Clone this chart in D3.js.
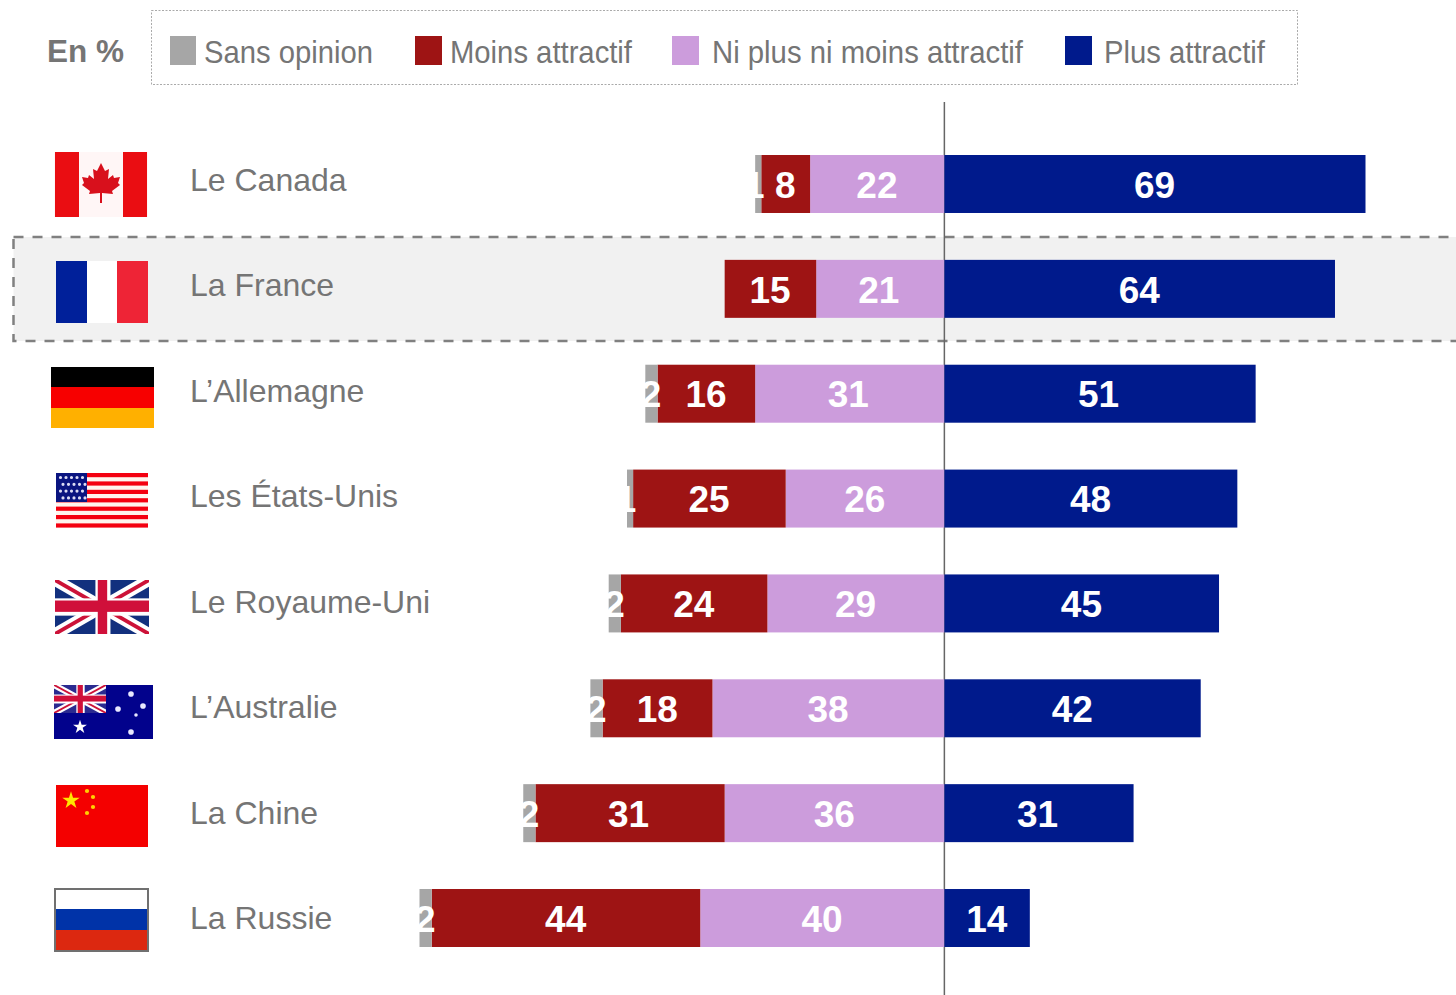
<!DOCTYPE html>
<html>
<head>
<meta charset="utf-8">
<script src="https://cdn.jsdelivr.net/npm/d3@7"></script>
<style>
  html, body { margin: 0; padding: 0; background: #fff; overflow: hidden; }
  text { font-family: "Liberation Sans", Arial, sans-serif; }
</style>
</head>
<body>
<div id="chart"></div>
<script>
// data
var countries = ["Le Canada", "La France", "L\u2019Allemagne", "Les \u00c9tats-Unis", "Le Royaume-Uni", "L\u2019Australie", "La Chine", "La Russie"];
var sansOpinion = [1, 0, 2, 1, 2, 2, 2, 2];
var moinsAttractif = [8, 15, 16, 25, 24, 18, 31, 44];
var niPlusNiMoins = [22, 21, 31, 26, 29, 38, 36, 40];
var plusAttractif = [69, 64, 51, 48, 45, 42, 31, 14];
var legendLabels = ["Sans opinion", "Moins attractif", "Ni plus ni moins attractif", "Plus attractif"];

var grey = "#a6a6a6", red = "#9e1414", lilac = "#cc9cdc", navy = "#001a8c", textGrey = "#757575";

var svg = d3.select("#chart").append("svg")
  .attr("width", 1456)
  .attr("height", 995);

// scales
var x = d3.scaleLinear().domain([-86, 69]).range([419.5, 1365.5]);
var y = d3.scaleBand().domain(countries).range([155, 947]).paddingInner(0.447).paddingOuter(0);
// the names sit on a slightly wider step than the bars
var nameY = d3.scalePoint().domain(countries).range([191, 929]);

// header
svg.append("text")
  .attr("x", 47).attr("y", 62)
  .attr("font-size", 31.5).attr("font-weight", "bold").attr("fill", textGrey)
  .text("En %");

svg.append("rect")
  .attr("x", 151.5).attr("y", 10.5).attr("width", 1146).attr("height", 74)
  .attr("fill", "none").attr("stroke", "#aaa").attr("stroke-dasharray", "2,1.5");

var legendX = [170, 415, 672, 1065], legendW = [26, 27, 27, 27], legendTextX = [204, 450, 712, 1104];
var legendTextLen = [169, 182, 311, 161];
[grey, red, lilac, navy].forEach(function(c, i) {
  svg.append("rect").attr("x", legendX[i]).attr("y", 36).attr("width", legendW[i]).attr("height", 29).attr("fill", c);
  svg.append("text")
    .attr("x", legendTextX[i]).attr("y", 62.5)
    .attr("font-size", 30.5).attr("fill", textGrey)
    .attr("textLength", legendTextLen[i]).attr("lengthAdjust", "spacingAndGlyphs")
    .text(legendLabels[i]);
});

// highlight behind France
svg.append("rect")
  .attr("x", 13.5).attr("y", 237).attr("width", 1460).attr("height", 104)
  .attr("fill", "#f1f1f1").attr("stroke", "#808080").attr("stroke-width", 2.5).attr("stroke-dasharray", "10,9");

// zero line
svg.append("line")
  .attr("x1", x(0)).attr("x2", x(0)).attr("y1", 102).attr("y2", 995)
  .attr("stroke", "#666").attr("stroke-width", 1.5);

// left side is a stack running outwards from zero
var table = countries.map(function(c, i) {
  return { country: c, ni: niPlusNiMoins[i], moins: moinsAttractif[i], sans: sansOpinion[i], plus: plusAttractif[i] };
});
var leftSeries = d3.stack().keys(["ni", "moins", "sans"])(table);
var colors = { ni: lilac, moins: red, sans: grey };

leftSeries.forEach(function(s) {
  var g = svg.append("g");
  g.selectAll("rect").data(s).enter().append("rect")
    .attr("x", function(d) { return x(-d[1]); })
    .attr("y", function(d) { return y(d.data.country); })
    .attr("width", function(d) { return x(-d[0]) - x(-d[1]); })
    .attr("height", y.bandwidth())
    .attr("fill", colors[s.key]);
});

svg.append("g").selectAll("rect").data(table).enter().append("rect")
  .attr("x", x(0))
  .attr("y", function(d) { return y(d.country); })
  .attr("width", function(d) { return x(d.plus) - x(0); })
  .attr("height", y.bandwidth())
  .attr("fill", navy);

// value labels
// the 1 of this font sits further right than in the original, so nudge it back
function nudge(v) {
  if (v === 1) return -4;
  return v % 10 === 1 ? -1.5 : -0.3;
}
function valueLabels(rows, pos, val) {
  svg.append("g").selectAll("text").data(rows).enter().append("text")
    .attr("x", function(d) { return pos(d) + nudge(val(d)); })
    .attr("y", function(d) { return y(d.data ? d.data.country : d.country) + y.bandwidth() / 2 + 13.7; })
    .attr("text-anchor", "middle")
    .attr("font-size", 37).attr("font-weight", "bold").attr("fill", "#fff")
    .text(val);
}
leftSeries.forEach(function(s) {
  var rows = s.filter(function(d) { return d[1] > d[0]; });
  valueLabels(rows, function(d) { return (x(-d[0]) + x(-d[1])) / 2; }, function(d) { return d[1] - d[0]; });
});
valueLabels(table, function(d) { return (x(0) + x(d.plus)) / 2; }, function(d) { return d.plus; });

// country names
svg.append("g").selectAll("text").data(countries).enter().append("text")
  .attr("x", 190)
  .attr("y", function(d) { return nameY(d); })
  .attr("font-size", 32).attr("fill", textGrey)
  .text(function(d) { return d; });

// flags, each one drawn in its own box
function box(px, py) {
  return svg.append("g").attr("transform", "translate(" + px + "," + py + ")");
}
function bar(g, a, b, c, d, fill) {
  g.append("rect").attr("x", a).attr("y", b).attr("width", c).attr("height", d).attr("fill", fill);
}
function star(g, cx, cy, size, fill, sym) {
  g.append("path")
    .attr("transform", "translate(" + cx + "," + cy + ")")
    .attr("d", d3.symbol().type(sym || d3.symbolStar).size(size)())
    .attr("fill", fill);
}
function line(g, x1, y1, x2, y2, col, w) {
  g.append("line").attr("x1", x1).attr("y1", y1).attr("x2", x2).attr("y2", y2).attr("stroke", col).attr("stroke-width", w);
}
function unionJack(g, w, h, bg) {
  var clipId = "uj" + Math.round(w);
  g.append("clipPath").attr("id", clipId).append("rect").attr("width", w).attr("height", h);
  var u = g.append("g").attr("clip-path", "url(#" + clipId + ")");
  bar(u, 0, 0, w, h, bg);
  line(u, 0, 0, w, h, "#fff", h * 0.22);
  line(u, w, 0, 0, h, "#fff", h * 0.22);
  line(u, 0, 0, w, h, "#cc1238", h * 0.07);
  line(u, w, 0, 0, h, "#cc1238", h * 0.07);
  bar(u, w * 0.43, 0, w * 0.16, h, "#fff");
  bar(u, 0, h * 0.34, w, h * 0.32, "#fff");
  bar(u, w * 0.455, 0, w * 0.1, h, "#d0103a");
  bar(u, 0, h * 0.38, w, h * 0.21, "#d0103a");
}

// Canada
var ca = box(54, 151);
bar(ca, 0, 1, 94, 65, "#fff6f6");
bar(ca, 1, 1, 24, 65, "#ea0d12");
bar(ca, 69, 1, 24, 65, "#ea0d12");
ca.append("path")
  .attr("d", "M47 12 L51 20 L55 18 L54 28 L59 24 L60 27 L66 26 L64 32 L66 34 L58 40 L59 43 L48 42 L48 52 L46 52 L46 42 L35 43 L36 40 L28 34 L30 32 L28 26 L34 27 L35 24 L40 28 L39 18 L43 20 Z")
  .attr("fill", "#d8101c");

// France
var fr = box(56, 261);
bar(fr, 0, 0, 31, 62, "#00209a");
bar(fr, 31, 0, 30, 62, "#fff");
bar(fr, 61, 0, 31, 62, "#ee2436");

// Germany
var de = box(51, 367);
bar(de, 0, 0, 103, 20, "#000");
bar(de, 0, 20, 103, 21, "#f70000");
bar(de, 0, 41, 103, 20, "#ffb000");

// United States
var us = box(56, 473);
bar(us, 0, 0, 92, 54, "#fff4ee");
d3.range(0, 7).forEach(function(i) { bar(us, 0, i * 8.4, 92, 4.2, "#f40010"); });
bar(us, 0, 0, 31, 29, "#0a1480");
d3.range(0, 4).forEach(function(r) {
  d3.range(0, 5).forEach(function(c) {
    star(us, 4.5 + c * 5.5 + (r % 2 ? 2.5 : 0), 4.5 + r * 6.8, 8, "#dcdcf4", d3.symbolCircle);
  });
});

// United Kingdom
var uk = box(55, 580);
unionJack(uk, 94, 54, "#12307e");

// Australia
var au = box(54, 685);
bar(au, 0, 0, 99, 54, "#02028c");
unionJack(au, 52, 28, "#2a2a90");
star(au, 26, 42, 60, "#fff");
star(au, 77, 9, 25, "#e8e8ff", d3.symbolCircle);
star(au, 64, 24, 25, "#e8e8ff", d3.symbolCircle);
star(au, 89, 21, 25, "#e8e8ff", d3.symbolCircle);
star(au, 82, 30, 10, "#e8e8ff", d3.symbolCircle);
star(au, 77, 47, 25, "#e8e8ff", d3.symbolCircle);

// China
var cn = box(56, 785);
bar(cn, 0, 0, 92, 62, "#f40000");
star(cn, 15, 15.5, 95, "#ffe600");
star(cn, 31, 6, 14, "#ffd000", d3.symbolCircle);
star(cn, 37, 12, 14, "#ffd000", d3.symbolCircle);
star(cn, 37, 22, 14, "#ffd000", d3.symbolCircle);
star(cn, 31, 28, 14, "#ffd000", d3.symbolCircle);

// Russia
var ru = box(55, 889);
bar(ru, 0, 0, 93, 20, "#fff");
bar(ru, 0, 20, 93, 21, "#0033a8");
bar(ru, 0, 41, 93, 21, "#dc2810");
ru.append("rect").attr("width", 93).attr("height", 62).attr("fill", "none").attr("stroke", "#707070").attr("stroke-width", 2);
</script>
</body>
</html>
